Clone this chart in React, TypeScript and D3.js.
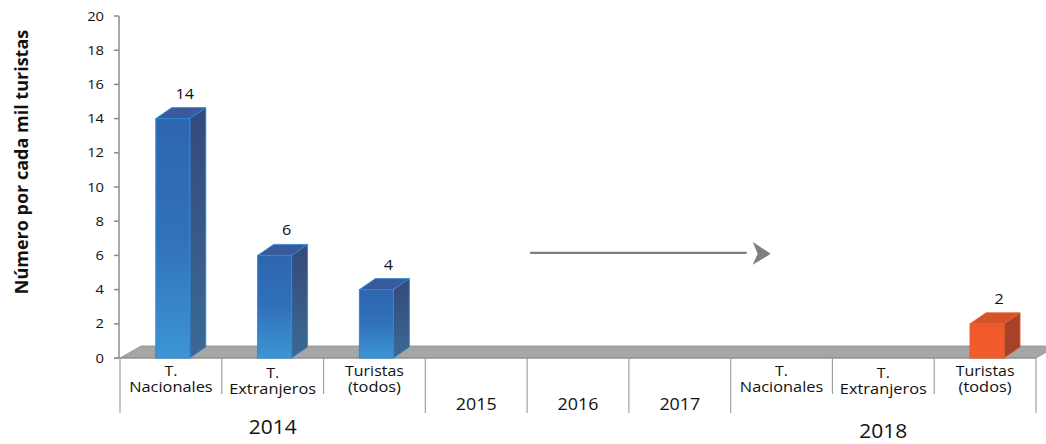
import React from "react";
import * as d3 from "d3";

const categoryLines: string[][] = [
  ["T.", "Nacionales"],
  ["T.", "Extranjeros"],
  ["Turistas", "(todos)"],
  ["2015"],
  ["2016"],
  ["2017"],
  ["T.", "Nacionales"],
  ["T.", "Extranjeros"],
  ["Turistas", "(todos)"],
];
const values: (number | null)[] = [14, 6, 4, null, null, null, null, null, 2];
const barSeries: string[] = ["2014", "2014", "2014", "", "", "", "2018", "2018", "2018"];
const yearGroups: { label: string; from: number; to: number }[] = [
  { label: "2014", from: 0, to: 2 },
  { label: "2018", from: 6, to: 8 },
];
const yTicks: number[] = [0, 2, 4, 6, 8, 10, 12, 14, 16, 18, 20];
const yTitle = "Número por cada mil turistas";
const arrowFromIndex = 4;
const arrowToIndex = 6;
const arrowValue = 6.15;

const W = 1046;
const H = 444;
const X0 = 120;
const X1 = 1036;
const Y0 = 358;
const Y1 = 16;
const DX = 16;
const DY = -11;
const FDX = 21;
const FDY = -12;
const FONT = "'Open Sans', sans-serif";
const TXT = "#111";

const SText = ({ x, y, anchor = "middle", size, sx = 1.14, weight = 400, children, fill = TXT }: any) => (
  <text
    transform={`translate(${x},${y}) scale(${sx},1)`}
    textAnchor={anchor}
    fontSize={size}
    fontFamily={FONT}
    fontWeight={weight}
    fill={fill}
  >
    {children}
  </text>
);

export default function App() {
  const idx = categoryLines.map((_, i) => String(i));
  const x = d3.scaleBand<string>().domain(idx).range([X0, X1]).padding(0);
  const y = d3.scaleLinear().domain([0, 20]).range([Y0, Y1]);
  const bw = x.bandwidth();
  const frontOff = bw * 0.352;
  const barW = bw * 0.334;

  const groupBoundaries = new Set<number>([0, 3, 4, 5, 6, 9]);

  const palette: Record<string, any> = {
    "2014": { front: "url(#gBlueFront)", side: "url(#gBlueSide)", top: "#3A5A9C", stroke: "#2A8AD8" },
    "2018": { front: "url(#gOrFront)", side: "#A8412A", top: "#D4532B", stroke: "#E0602C" },
  };

  const ax = (x(String(arrowFromIndex)) as number) + 3;
  const bx = (x(String(arrowToIndex)) as number) + 16;
  const ay = y(arrowValue);

  return (
    <svg width={W} height={H} style={{ position: "absolute", left: 0, top: 0, background: "#fff" }}>
      <defs>
        <linearGradient id="gBlueFront" x1="0" y1="0" x2="0" y2="1">
          <stop offset="0" stopColor="#2E65B0" />
          <stop offset="0.5" stopColor="#3171BC" />
          <stop offset="1" stopColor="#3C95D5" />
        </linearGradient>
        <linearGradient id="gBlueSide" x1="0" y1="0" x2="0" y2="1">
          <stop offset="0" stopColor="#34497C" />
          <stop offset="1" stopColor="#3B6A94" />
        </linearGradient>
        <linearGradient id="gOrFront" x1="0" y1="0" x2="0" y2="1">
          <stop offset="0" stopColor="#F05A2A" />
          <stop offset="1" stopColor="#F05C2C" />
        </linearGradient>
      </defs>

      {/* y axis title */}
      <text
        transform={`translate(28,${(Y0 + Y1) / 2 - 25}) rotate(-90)`}
        textAnchor="middle"
        fontFamily={FONT}
        fontWeight={700}
        fontSize={18}
        fill="#111"
      >
        {yTitle}
      </text>

      {/* floor */}
      <polygon
        points={`${X0},${Y0} ${X0 + FDX},${Y0 + FDY} ${X1 + FDX},${Y0 + FDY} ${X1},${Y0}`}
        fill="#A6A6A6"
        stroke="#8E8E8E"
        strokeWidth={0.8}
      />

      {/* y axis */}
      <line x1={X0 - 1} x2={X0 - 1} y1={y(20)} y2={Y0} stroke="#8C8C8C" strokeWidth={1.5} />
      {yTicks.map((t) => (
        <g key={t}>
          <line x1={X0 - 6} x2={X0 - 1} y1={y(t)} y2={y(t)} stroke="#8C8C8C" strokeWidth={1.5} />
          <SText x={104} y={y(t) + 4.5} anchor="end" size={12.5} sx={1.18} fill="#111">
            {t}
          </SText>
        </g>
      ))}

      {/* category axis */}
      <line x1={X0 - 6} x2={X1} y1={Y0} y2={Y0} stroke="#8C8C8C" strokeWidth={1.2} />
      {d3.range(categoryLines.length + 1).map((i) => {
        const bx0 = X0 + i * bw;
        const long = groupBoundaries.has(i);
        return (
          <line key={i} x1={bx0} x2={bx0} y1={Y0} y2={long ? 413 : 394} stroke="#A0A0A0" strokeWidth={1.2} />
        );
      })}
      {categoryLines.map((lines, i) => {
        const cx = (x(String(i)) as number) + bw / 2;
        if (lines.length === 1) {
          return (
            <SText key={i} x={cx} y={410} size={17} sx={1.05}>
              {lines[0]}
            </SText>
          );
        }
        const off = lines[1] === "Extranjeros" ? 2 : 0;
        return (
          <g key={i}>
            <SText x={cx} y={376 + off} size={14}>
              {lines[0]}
            </SText>
            <SText x={cx} y={392 + off} size={14} sx={1.17}>
              {lines[1]}
            </SText>
          </g>
        );
      })}
      {yearGroups.map((g, k) => {
        const cx = ((x(String(g.from)) as number) + (x(String(g.to)) as number) + bw) / 2;
        return (
          <SText key={g.label} x={cx} y={k === 0 ? 434 : 438} size={20} sx={1.05}>
            {g.label}
          </SText>
        );
      })}

      {/* bars */}
      {values.map((v, i) => {
        if (v == null) return null;
        const pal = palette[barSeries[i]];
        const xf = (x(String(i)) as number) + frontOff;
        const yt = y(v);
        return (
          <g key={i}>
            <polygon
              points={`${xf + barW},${yt} ${xf + barW + DX},${yt + DY} ${xf + barW + DX},${Y0 + DY} ${xf + barW},${Y0}`}
              fill={pal.side}
              stroke={pal.stroke}
              strokeWidth={0.8}
            />
            <polygon
              points={`${xf},${yt} ${xf + DX},${yt + DY} ${xf + barW + DX},${yt + DY} ${xf + barW},${yt}`}
              fill={pal.top}
              stroke={pal.stroke}
              strokeWidth={0.8}
            />
            <rect x={xf} y={yt} width={barW} height={Y0 - yt} fill={pal.front} stroke={pal.stroke} strokeWidth={1} />
            <SText x={xf + 29} y={yt + DY - 9} size={15} sx={1.08}>
              {v}
            </SText>
          </g>
        );
      })}

      {/* arrow annotation */}
      <line x1={ax} x2={bx} y1={ay} y2={ay} stroke="#7F7F7F" strokeWidth={2.2} />
      <polygon
        points={`${bx + 24},${ay + 1} ${bx + 6},${ay - 11} ${bx + 11},${ay + 1} ${bx + 6},${ay + 12}`}
        fill="#7F7F7F"
      />
    </svg>
  );
}
